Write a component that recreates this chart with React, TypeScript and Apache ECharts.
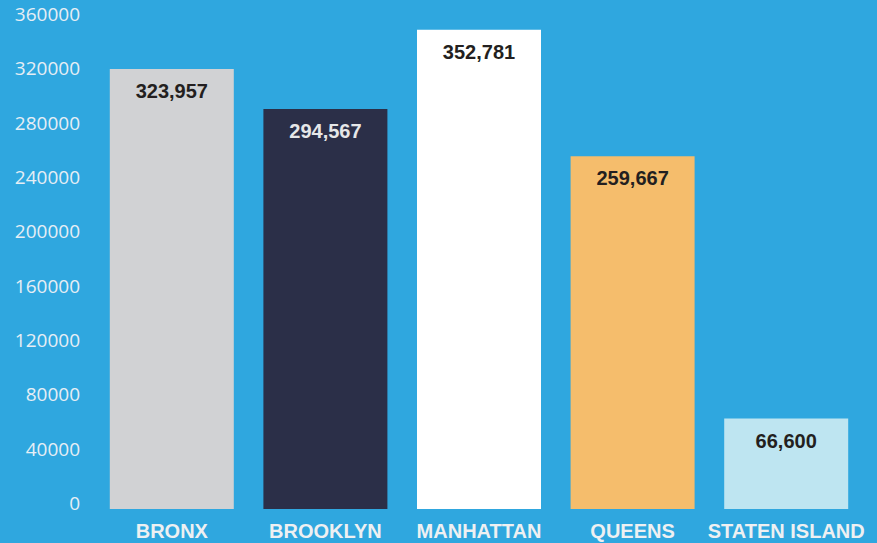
import React, { useEffect, useRef } from "react";
import * as echarts from "echarts";

const categories = ["BRONX", "BROOKLYN", "MANHATTAN", "QUEENS", "STATEN ISLAND"];
const values = [323957, 294567, 352781, 259667, 66600];
const barColors = ["#d1d2d4", "#2b2f48", "#ffffff", "#f5bd6c", "#bee5f1"];
const valueLabelColors = ["#231f20", "#e6e7e8", "#231f20", "#231f20", "#231f20"];

export default function App() {
  const ref = useRef<HTMLDivElement>(null);
  useEffect(() => {
    document.body.style.margin = "0";
    const chart = echarts.init(ref.current!, undefined, { renderer: "svg" });
    chart.setOption({
      animation: false,
      backgroundColor: "#2fa7df",
      grid: { left: 95, right: 14, top: 20, bottom: 34 },
      xAxis: {
        type: "category",
        data: categories,
        axisLine: { show: false },
        axisTick: { show: false },
        axisLabel: {
          color: "#eef0f2",
          fontFamily: "Liberation Sans, Arial, sans-serif",
          fontWeight: "bold",
          fontSize: 20,
          margin: 12,
          interval: 0,
        },
      },
      yAxis: {
        type: "value",
        min: 0,
        max: 360000,
        interval: 40000,
        axisLine: { show: false },
        axisTick: { show: false },
        splitLine: { show: false },
        axisLabel: {
          margin: 15,
          verticalAlign: "middle",
          formatter: (v: number) => "{a|" + String(v) + "}",
          rich: {
            a: {
              color: "#e6eef5",
              fontFamily: "Open Sans, sans-serif",
              fontSize: 19,
              padding: [0, 0, 12, 0],
            },
          },
        },
      },
      series: [
        {
          type: "bar",
          barWidth: 124,
          data: values.map((v, i) => ({
            value: v,
            itemStyle: { color: barColors[i] },
            label: { color: valueLabelColors[i] },
          })),
          label: {
            show: true,
            position: "insideTop",
            distance: 12,
            fontFamily: "Liberation Sans, Arial, sans-serif",
            fontWeight: "bold",
            fontSize: 20,
            formatter: (p: any) => Number(p.value).toLocaleString("en-US"),
          },
        },
      ],
    });
    return () => chart.dispose();
  }, []);
  return <div ref={ref} style={{ width: 877, height: 543 }} />;
}
